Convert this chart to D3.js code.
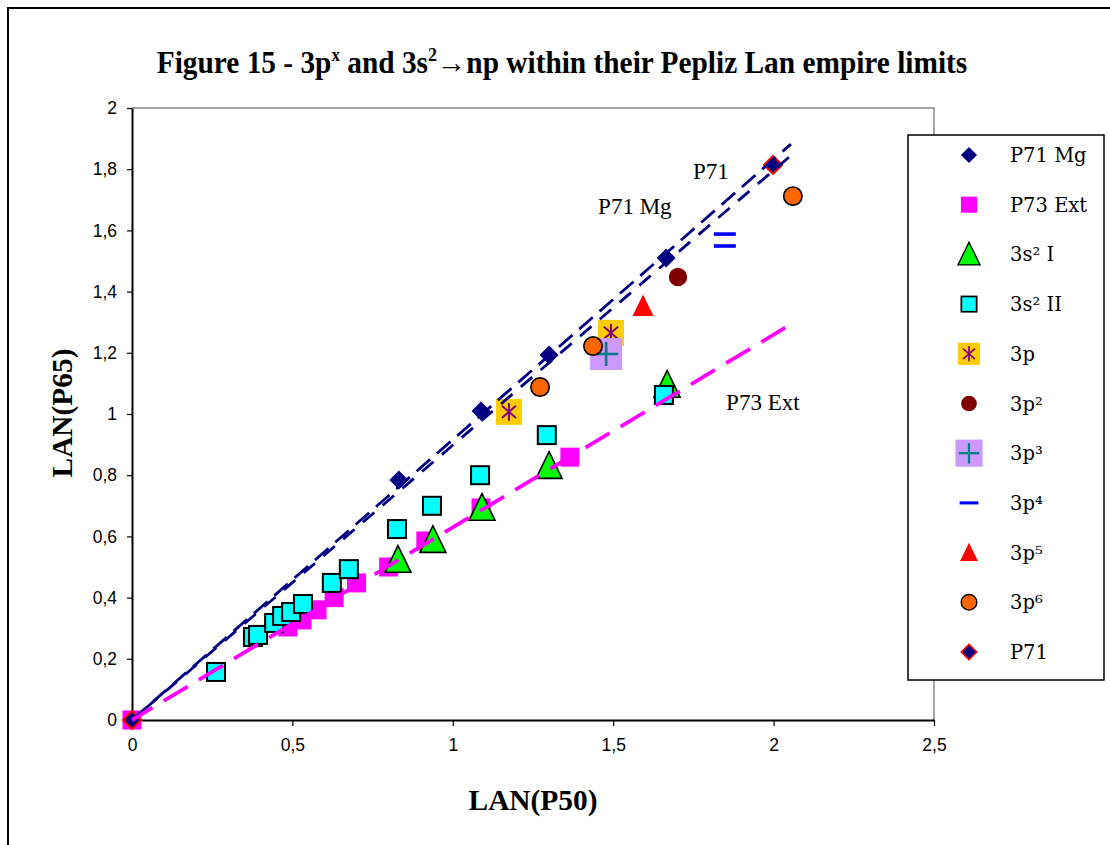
<!DOCTYPE html>
<html>
<head>
<meta charset="utf-8">
<script src="https://cdn.jsdelivr.net/npm/d3@7"></script>
<style>
  body { margin: 0; background: #fff; }
  svg text { fill: #000; }
</style>
</head>
<body>
<div id="chart"></div>
<script>
// series values [LAN(P50), LAN(P65)]
const p71Mg = [[0, 0], [0.832, 0.784], [1.088, 1.01], [1.30, 1.193], [1.665, 1.51], [2.0, 1.814]];
const p73Ext = [[0, 0], [0.486, 0.304], [0.53, 0.327], [0.577, 0.36], [0.63, 0.40], [0.70, 0.448],
  [0.80, 0.50], [0.916, 0.585], [1.088, 0.693], [1.365, 0.859]];
const s2I = [[0.829, 0.523], [0.938, 0.588], [1.091, 0.693], [1.30, 0.83], [1.668, 1.095]];
const s2II = [[0.262, 0.157], [0.377, 0.271], [0.393, 0.278], [0.443, 0.317], [0.468, 0.34],
  [0.496, 0.353], [0.533, 0.379], [0.623, 0.448], [0.676, 0.493], [0.826, 0.624],
  [0.935, 0.70], [1.085, 0.80], [1.293, 0.931], [1.658, 1.062]];
const p1 = [[1.175, 1.007], [1.493, 1.265]];
const p2 = [[1.702, 1.448]];
const p3 = [[1.478, 1.196]];
const p4 = [[1.848, 1.588], [1.848, 1.549]];
const p5 = [[1.593, 1.353]];
const p6 = [[2.06, 1.712], [1.272, 1.088], [1.437, 1.222]];
const p71 = [[0, 0], [1.998, 1.814]];

// trend lines (start, end)
const trendMgA = [[0, 0], [2.054, 1.882]];
const trendMgB = [[0, 0], [2.06, 1.85]];
const trendExt = [[0, 0], [2.06, 1.297]];

const xTicks = [0, 0.5, 1, 1.5, 2, 2.5];
const yTicks = [0, 0.2, 0.4, 0.6, 0.8, 1, 1.2, 1.4, 1.6, 1.8, 2];

const legendNames = ['P71 Mg', 'P73 Ext', '3s\u00B2 I', '3s\u00B2 II', '3p', '3p\u00B2', '3p\u00B3',
  '3p\u2074', '3p\u2075', '3p\u2076', 'P71'];

const notes = [
  { text: 'P71', x: 1.749, y: 1.768 },
  { text: 'P71 Mg', x: 1.453, y: 1.654 },
  { text: 'P73 Ext', x: 1.852, y: 1.013 }
];

// marker styles, same order as legendNames
const styles = [
  { shape: 'diamond', r: 9.5, fill: '#000080' },
  { shape: 'square', r: 9.5, fill: '#ff00ff' },
  { shape: 'triangle', r: 13, fill: '#00ff00', stroke: '#000', sw: 1.6 },
  { shape: 'square', r: 9, fill: '#00ffff', stroke: '#000', sw: 2 },
  { shape: 'star', r: 13, fill: '#ffcc00', glyph: '#800080' },
  { shape: 'circle', r: 9.2, fill: '#800000' },
  { shape: 'plus', r: 16, fill: '#cc99ff', glyph: '#008080' },
  { shape: 'dash', r: 11, fill: '#0000ff' },
  { shape: 'triangle', r: 10.5, fill: '#ff0000' },
  { shape: 'circle', r: 9.2, fill: '#ff6600', stroke: '#000', sw: 1.6 },
  { shape: 'diamond', r: 9, fill: '#000080', stroke: '#ff0000', sw: 2 }
];
const seriesData = [p71Mg, p73Ext, s2I, s2II, p1, p2, p3, p4, p5, p6, p71];

const W = 1110, H = 845;
const x = d3.scaleLinear().domain([0, 2.5]).range([132, 934]);
const y = d3.scaleLinear().domain([0, 2]).range([720, 108]);

const svg = d3.select('#chart').append('svg')
  .attr('width', W).attr('height', H);

// outer frame
svg.append('rect')
  .attr('x', 8).attr('y', 8).attr('width', W + 10).attr('height', H + 10)
  .attr('fill', '#fff').attr('stroke', '#000').attr('stroke-width', 2);

// plot frame (top, right)
svg.append('path')
  .attr('d', `M${x(0)},${y(2)}H${x(2.5)}V${y(0)}`)
  .attr('fill', 'none').attr('stroke', '#888').attr('stroke-width', 1.5);

const fmt = d => String(d).replace('.', ',');

const xAxis = svg.append('g')
  .attr('transform', `translate(0,${y(0)})`)
  .call(d3.axisBottom(x).tickValues(xTicks).tickFormat(fmt).tickSize(6).tickPadding(13).tickSizeOuter(0));
const yAxis = svg.append('g')
  .attr('transform', `translate(${x(0)},0)`)
  .call(d3.axisLeft(y).tickValues(yTicks).tickFormat(fmt).tickSize(5).tickPadding(10).tickSizeOuter(0));

[xAxis, yAxis].forEach(a => {
  a.select('.domain').attr('stroke', '#000').attr('stroke-width', 2);
  a.selectAll('.tick line').attr('stroke', '#000').attr('stroke-width', 1.2);
  a.selectAll('.tick text')
    .attr('font-family', 'Liberation Sans, Arial, sans-serif')
    .attr('font-size', 17.5).attr('fill', '#000');
});

function drawMarker(g, st, k) {
  const r = st.r * k;
  const sw = (st.sw || 0) * k;
  if (st.shape === 'diamond') {
    g.append('path').attr('d', `M0,${-r}L${r},0L0,${r}L${-r},0Z`)
      .attr('fill', st.fill).attr('stroke', st.stroke || 'none').attr('stroke-width', sw);
  } else if (st.shape === 'square') {
    g.append('rect').attr('x', -r).attr('y', -r).attr('width', 2 * r).attr('height', 2 * r)
      .attr('fill', st.fill).attr('stroke', st.stroke || 'none').attr('stroke-width', sw);
  } else if (st.shape === 'triangle') {
    g.append('path').attr('d', `M0,${-r * 1.1}L${r},${r * 0.95}L${-r},${r * 0.95}Z`)
      .attr('fill', st.fill).attr('stroke', st.stroke || 'none').attr('stroke-width', sw)
      .attr('stroke-linejoin', 'miter');
  } else if (st.shape === 'circle') {
    g.append('circle').attr('r', r)
      .attr('fill', st.fill).attr('stroke', st.stroke || 'none').attr('stroke-width', sw);
  } else if (st.shape === 'dash') {
    g.append('rect').attr('x', -r).attr('y', -1.8 * k).attr('width', 2 * r).attr('height', 3.6 * k)
      .attr('fill', st.fill);
  } else if (st.shape === 'star') {
    g.append('rect').attr('x', -r).attr('y', -r).attr('width', 2 * r).attr('height', 2 * r)
      .attr('fill', st.fill);
    const a = r * 0.68;
    g.append('path')
      .attr('d', `M0,${-a}V${a}M${-a * 0.8},${-a * 0.7}L${a * 0.8},${a * 0.7}M${-a * 0.8},${a * 0.7}L${a * 0.8},${-a * 0.7}`)
      .attr('stroke', st.glyph).attr('stroke-width', 2 * k).attr('fill', 'none');
  } else if (st.shape === 'plus') {
    g.append('rect').attr('x', -r).attr('y', -r).attr('width', 2 * r).attr('height', 2 * r)
      .attr('fill', st.fill);
    const a = r * 0.75;
    g.append('path').attr('d', `M0,${-a}V${a}M${-a},0H${a}`)
      .attr('stroke', st.glyph).attr('stroke-width', 2.6 * k).attr('fill', 'none');
  }
}

// MARKERS
const marks = svg.append('g');
seriesData.forEach((pts, i) => {
  marks.append('g').selectAll('g')
    .data(pts)
    .enter()
    .append('g')
    .attr('transform', d => `translate(${x(d[0])},${y(d[1])})`)
    .each(function () { drawMarker(d3.select(this), styles[i], 1); });
});

// TREND LINES (drawn over the markers)
const line = d3.line().x(d => x(d[0])).y(d => y(d[1]));
svg.append('path').datum(trendMgA).attr('d', line)
  .attr('fill', 'none').attr('stroke', '#000080').attr('stroke-width', 2.8)
  .attr('stroke-dasharray', '18,9');
svg.append('path').datum(trendMgB).attr('d', line)
  .attr('fill', 'none').attr('stroke', '#000080').attr('stroke-width', 2.8)
  .attr('stroke-dasharray', '15,11').attr('stroke-dashoffset', 8);
svg.append('path').datum(trendExt).attr('d', line)
  .attr('fill', 'none').attr('stroke', '#ff00ff').attr('stroke-width', 3.8)
  .attr('stroke-dasharray', '28,13').attr('stroke-dashoffset', 4);

// annotations
svg.append('g').selectAll('text')
  .data(notes)
  .enter()
  .append('text')
  .attr('x', d => x(d.x)).attr('y', d => y(d.y))
  .attr('font-family', 'Liberation Serif, Times New Roman, serif')
  .attr('font-size', 23)
  .text(d => d.text);

// TITLE
const title = svg.append('text')
  .attr('font-family', 'Liberation Serif, Times New Roman, serif')
  .attr('font-weight', 'bold').attr('font-size', 31)
  .attr('text-anchor', 'middle');
title.append('tspan').text('Figure 15 - 3p');
title.append('tspan').attr('dy', -12).attr('font-size', 18).text('x');
title.append('tspan').attr('dy', 12).text(' and 3s');
title.append('tspan').attr('dy', -12).attr('font-size', 19).text('2');
title.append('tspan').attr('dy', 12).text('\u2192np within their Pepliz Lan empire limits');
const tw = title.node().getBBox().width;
title.attr('transform', `translate(562,73) scale(${811 / tw},1)`);

// axis titles
const xt = svg.append('text')
  .attr('font-family', 'Liberation Serif, Times New Roman, serif')
  .attr('font-weight', 'bold').attr('font-size', 30)
  .attr('text-anchor', 'middle').text('LAN(P50)');
const xw = xt.node().getBBox().width;
xt.attr('transform', `translate(533,810) scale(${129 / xw},1)`);

const yt = svg.append('text')
  .attr('font-family', 'Liberation Serif, Times New Roman, serif')
  .attr('font-weight', 'bold').attr('font-size', 30)
  .attr('text-anchor', 'middle').text('LAN(P65)');
const yw = yt.node().getBBox().width;
yt.attr('transform', `translate(72,413) rotate(-90) scale(${129 / yw},1)`);

// LEGEND
const legend = svg.append('g');
legend.append('rect')
  .attr('x', 908).attr('y', 135).attr('width', 196).attr('height', 545)
  .attr('fill', '#fff').attr('stroke', '#000').attr('stroke-width', 1.5);

const items = legend.selectAll('.item')
  .data(legendNames)
  .enter()
  .append('g')
  .attr('class', 'item')
  .attr('transform', (d, i) => `translate(969,${155 + i * 49.7})`);

items.each(function (d, i) { drawMarker(d3.select(this), styles[i], 0.85); });

items.append('text')
  .attr('x', 41).attr('y', 7)
  .attr('font-family', 'DejaVu Serif, serif')
  .attr('font-size', 19.5)
  .text(d => d);
</script>
</body>
</html>
